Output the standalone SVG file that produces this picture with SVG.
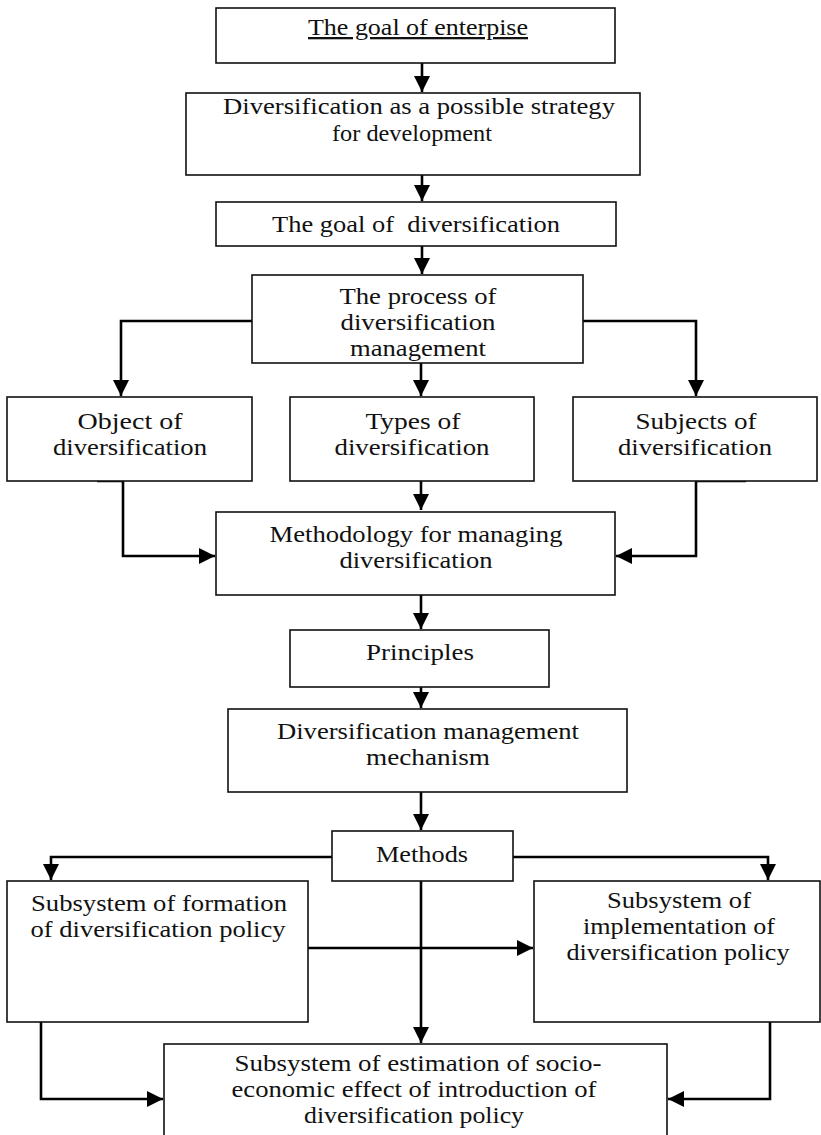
<svg xmlns="http://www.w3.org/2000/svg" width="821" height="1135" viewBox="0 0 821 1135">
<style>
.box{fill:#fff;stroke:#111;stroke-width:1.6}
.t{font-family:"Liberation Serif","Times New Roman",serif;font-size:23px;fill:#111;text-anchor:middle}
.c{fill:none;stroke:#000;stroke-width:2.6}
</style>
<defs>
<marker id="ah" markerUnits="userSpaceOnUse" markerWidth="17" markerHeight="16" refX="16" refY="8" orient="auto">
<path d="M0,0 L16,8 L0,16 Z" fill="#000"/>
</marker>
</defs>
<rect width="821" height="1135" fill="#fff"/>
<g id="connectors">
<path class="c" d="M422,63 V92" marker-end="url(#ah)"/>
<path class="c" d="M422,175 V201" marker-end="url(#ah)"/>
<path class="c" d="M422,246 V274" marker-end="url(#ah)"/>
<path class="c" d="M252,321 H121 V396" marker-end="url(#ah)"/>
<path class="c" d="M583,321 H696 V396" marker-end="url(#ah)"/>
<path class="c" d="M421,363 V396" marker-end="url(#ah)"/>
<path class="c" d="M97,481 H123 V556 H215" marker-end="url(#ah)"/>
<path class="c" d="M421,481 V510" marker-end="url(#ah)"/>
<path class="c" d="M746,481 H696 V556 H616" marker-end="url(#ah)"/>
<path class="c" d="M421,595 V629" marker-end="url(#ah)"/>
<path class="c" d="M421,674 V708" marker-end="url(#ah)"/>
<path class="c" d="M421,792 V830" marker-end="url(#ah)"/>
<path class="c" d="M332,857 H51 V880" marker-end="url(#ah)"/>
<path class="c" d="M513,857 H768 V880" marker-end="url(#ah)"/>
<path class="c" d="M421,881 V1043" marker-end="url(#ah)"/>
<path class="c" d="M308,948 H533" marker-end="url(#ah)"/>
<path class="c" d="M41,1022 V1099 H163" marker-end="url(#ah)"/>
<path class="c" d="M770,1022 V1099 H668" marker-end="url(#ah)"/>
</g>
<g id="goal-enterprise">
<rect class="box" x="216" y="8" width="399" height="55"/>
<text class="t" x="418" y="35" text-decoration="underline" textLength="220" lengthAdjust="spacingAndGlyphs">The goal of enterpise</text>
</g>
<g id="diversification-strategy">
<rect class="box" x="186" y="93" width="454" height="82"/>
<text class="t" x="419" y="114" textLength="392" lengthAdjust="spacingAndGlyphs">Diversification as a possible strategy</text>
<text class="t" x="412" y="141" textLength="160" lengthAdjust="spacingAndGlyphs">for development</text>
</g>
<g id="goal-diversification">
<rect class="box" x="216" y="202" width="400" height="44"/>
<text class="t" x="416" y="232" style="white-space:pre" textLength="288" lengthAdjust="spacingAndGlyphs">The goal of  diversification</text>
</g>
<g id="process">
<rect class="box" x="252" y="275" width="331" height="88"/>
<text class="t" x="418" y="304" textLength="157" lengthAdjust="spacingAndGlyphs">The process of</text>
<text class="t" x="418" y="330" textLength="155" lengthAdjust="spacingAndGlyphs">diversification</text>
<text class="t" x="418" y="356" textLength="136" lengthAdjust="spacingAndGlyphs">management</text>
</g>
<g id="object">
<rect class="box" x="7" y="397" width="245" height="84"/>
<text class="t" x="130" y="429" textLength="105" lengthAdjust="spacingAndGlyphs">Object of</text>
<text class="t" x="130" y="455" textLength="154" lengthAdjust="spacingAndGlyphs">diversification</text>
</g>
<g id="types">
<rect class="box" x="290" y="397" width="244" height="84"/>
<text class="t" x="413" y="429" textLength="95" lengthAdjust="spacingAndGlyphs">Types of</text>
<text class="t" x="412" y="455" textLength="155" lengthAdjust="spacingAndGlyphs">diversification</text>
</g>
<g id="subjects">
<rect class="box" x="573" y="397" width="244" height="84"/>
<text class="t" x="696" y="429" textLength="121" lengthAdjust="spacingAndGlyphs">Subjects of</text>
<text class="t" x="695" y="455" textLength="154" lengthAdjust="spacingAndGlyphs">diversification</text>
</g>
<g id="methodology">
<rect class="box" x="216" y="512" width="399" height="83"/>
<text class="t" x="416" y="542" textLength="293" lengthAdjust="spacingAndGlyphs">Methodology for managing</text>
<text class="t" x="416" y="568" textLength="153" lengthAdjust="spacingAndGlyphs">diversification</text>
</g>
<g id="principles">
<rect class="box" x="290" y="630" width="259" height="57"/>
<text class="t" x="420" y="660" textLength="108" lengthAdjust="spacingAndGlyphs">Principles</text>
</g>
<g id="mechanism">
<rect class="box" x="228" y="709" width="399" height="83"/>
<text class="t" x="428" y="739" textLength="302" lengthAdjust="spacingAndGlyphs">Diversification management</text>
<text class="t" x="428" y="765" textLength="124" lengthAdjust="spacingAndGlyphs">mechanism</text>
</g>
<g id="methods">
<rect class="box" x="332" y="831" width="181" height="50"/>
<text class="t" x="422" y="862" textLength="92" lengthAdjust="spacingAndGlyphs">Methods</text>
</g>
<g id="formation">
<rect class="box" x="7" y="881" width="301" height="141"/>
<text class="t" x="159" y="911" textLength="256" lengthAdjust="spacingAndGlyphs">Subsystem of formation</text>
<text class="t" x="158" y="937" textLength="255" lengthAdjust="spacingAndGlyphs">of diversification policy</text>
</g>
<g id="implementation">
<rect class="box" x="534" y="881" width="286" height="141"/>
<text class="t" x="679" y="908" textLength="144" lengthAdjust="spacingAndGlyphs">Subsystem of</text>
<text class="t" x="679" y="934" textLength="192" lengthAdjust="spacingAndGlyphs">implementation of</text>
<text class="t" x="678" y="960" textLength="223" lengthAdjust="spacingAndGlyphs">diversification policy</text>
</g>
<g id="estimation">
<rect class="box" x="164" y="1044" width="503" height="100"/>
<text class="t" x="418" y="1071" textLength="367" lengthAdjust="spacingAndGlyphs">Subsystem of estimation of socio-</text>
<text class="t" x="414" y="1097" textLength="365" lengthAdjust="spacingAndGlyphs">economic effect of introduction of</text>
<text class="t" x="414" y="1123" textLength="220" lengthAdjust="spacingAndGlyphs">diversification policy</text>
</g>
</svg>
